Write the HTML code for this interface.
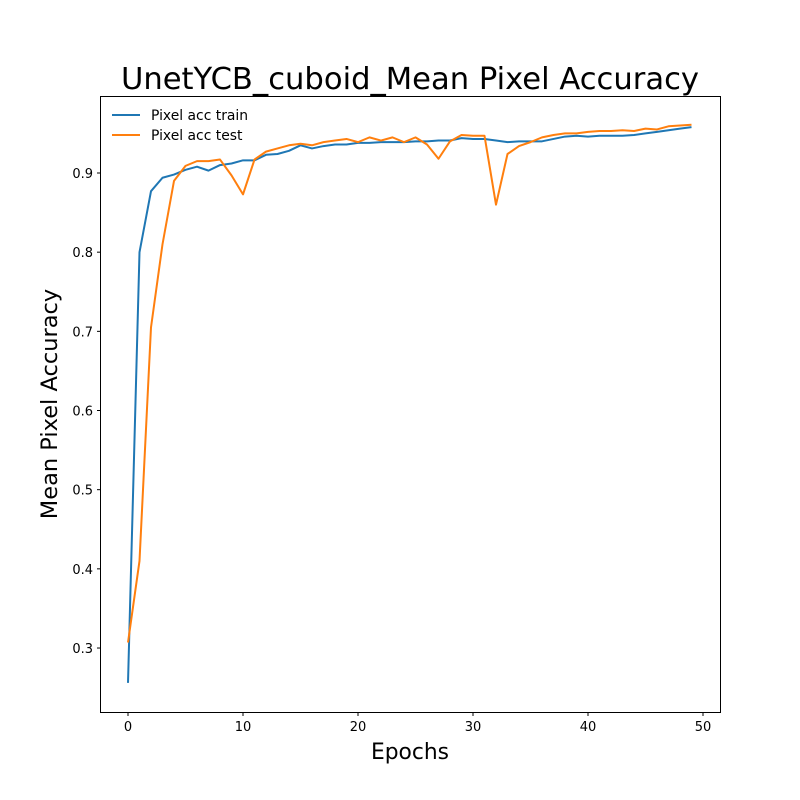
<!DOCTYPE html>
<html><head><meta charset="utf-8"><style>
html,body{margin:0;padding:0;background:#fff}
svg{display:block;font-family:"DejaVu Sans","Liberation Sans",sans-serif}
</style></head><body>
<svg id="chart" width="800" height="800" viewBox="0 0 800 800">
<rect width="800" height="800" fill="#fff"/>
<text x="410" y="89" font-size="30.6" text-anchor="middle">UnetYCB_cuboid_Mean Pixel Accuracy</text>
<g id="xticks"></g>
<g id="yticks"></g>
<g id="lines"></g>
<rect x="100.5" y="96.5" width="620" height="616" fill="none" stroke="#000" stroke-width="1"/>
<text x="410" y="759" font-size="21.8" text-anchor="middle">Epochs</text>
<text transform="translate(57,404) rotate(-90)" font-size="22.5" text-anchor="middle">Mean Pixel Accuracy</text>
<g>
<line x1="112" y1="115" x2="140" y2="115" stroke="#1f77b4" stroke-width="2"/>
<text x="151" y="120" font-size="13.9">Pixel acc train</text>
<line x1="112" y1="135" x2="140" y2="135" stroke="#ff7f0e" stroke-width="2"/>
<text x="151" y="140" font-size="13.9">Pixel acc test</text>
</g>
</svg>
<script>
const trainAcc=[0.256,0.80,0.877,0.894,0.898,0.904,0.908,0.903,0.910,0.912,0.916,0.916,0.923,0.924,0.928,0.935,0.931,0.934,0.936,0.936,0.938,0.938,0.939,0.939,0.939,0.940,0.940,0.941,0.941,0.944,0.943,0.943,0.941,0.939,0.940,0.940,0.940,0.943,0.946,0.947,0.946,0.947,0.947,0.947,0.948,0.950,0.952,0.954,0.956,0.958];
const testAcc=[0.307,0.41,0.705,0.81,0.89,0.909,0.915,0.915,0.917,0.897,0.873,0.917,0.927,0.931,0.935,0.937,0.935,0.939,0.941,0.943,0.939,0.945,0.941,0.945,0.939,0.945,0.936,0.918,0.940,0.948,0.947,0.947,0.860,0.924,0.934,0.939,0.945,0.948,0.950,0.950,0.952,0.953,0.953,0.954,0.953,0.956,0.955,0.959,0.960,0.961];
const xTicks=[0,10,20,30,40,50];
const yTicks=[0.3,0.4,0.5,0.6,0.7,0.8,0.9];
const NS="http://www.w3.org/2000/svg";
function xs(v){return 128+v*11.5;}
function ys(v){return 173+(0.9-v)*791.7;}
function mk(tag,attrs,parent){const e=document.createElementNS(NS,tag);for(const k in attrs)e.setAttribute(k,attrs[k]);parent.appendChild(e);return e;}
const gx=document.getElementById('xticks'),gy=document.getElementById('yticks'),gl=document.getElementById('lines');
xTicks.forEach(t=>{const x=xs(t);
const l=mk('line',{x1:x,y1:712.5,x2:x,y2:716,stroke:'#000'},gx);


const tx=mk('text',{x:x,y:731,'font-size':13,'text-anchor':'middle'},gx);tx.textContent=t;

});
yTicks.forEach(t=>{const y=ys(t);
const l=mk('line',{x1:97,y1:y,x2:100.5,y2:y,stroke:'#000'},gy);


const tx=mk('text',{x:93,y:y+5,'font-size':13,'text-anchor':'end'},gy);tx.textContent=t.toFixed(1);

});
function line(arr,color,name){const p=mk('polyline',{points:arr.map((v,i)=>xs(i)+','+ys(v)).join(' '),fill:'none',stroke:color,'stroke-width':2,'stroke-linejoin':'round'},gl);

}
line(trainAcc,'#1f77b4','train-line');
line(testAcc,'#ff7f0e','test-line');
</script>
</body></html>
